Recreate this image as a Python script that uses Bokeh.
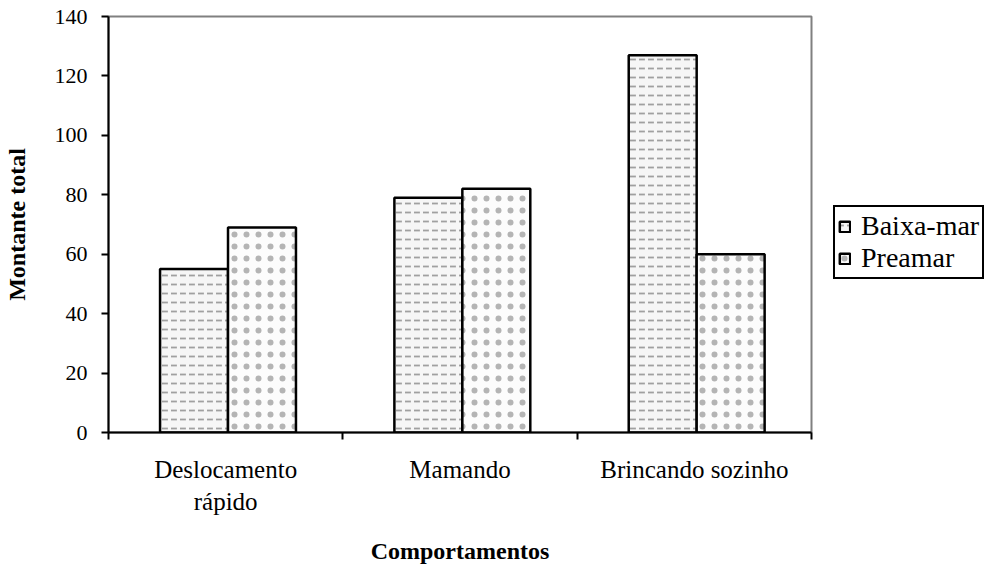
from bokeh.plotting import figure
from bokeh.models import FixedTicker, Legend, LegendItem, ColumnDataSource, Range1d
from bokeh.embed import file_html
from bokeh.resources import INLINE

categories = ["Deslocamento\nrápido", "Mamando", "Brincando sozinho"]
series_names = ["Baixa-mar", "Preamar"]
baixa_mar = [55, 79, 127]
preamar = [69, 82, 60]
y_ticks = [0, 20, 40, 60, 80, 100, 120, 140]

SERIF = "Liberation Serif"

p = figure(frame_width=703, frame_height=416, output_backend="svg", toolbar_location=None,
           x_range=Range1d(0, len(categories)), y_range=Range1d(0, 140),
           min_border_left=102, min_border_right=0, min_border_top=16, min_border_bottom=126)

idx = list(range(len(categories)))
w = 0.29
src_b = ColumnDataSource(dict(x=[i + 0.51 - w / 2 for i in idx], top=baixa_mar))
src_p = ColumnDataSource(dict(x=[i + 0.51 + w / 2 for i in idx], top=preamar))

rb = p.vbar(x="x", top="top", width=w, bottom=0, source=src_b,
            fill_color="#f6f6f6", line_color="black", line_width=2.5,
            hatch_pattern="horizontal_dash", hatch_color="#a0a0a0", hatch_scale=9, hatch_weight=1.8)
rp = p.vbar(x="x", top="top", width=w, bottom=0, source=src_p,
            fill_color="#fcfcfc", line_color="black", line_width=2.5,
            hatch_pattern="dot", hatch_color="#b4b4b4", hatch_scale=12, hatch_weight=0.5)

p.xgrid.visible = False
p.ygrid.visible = False
p.outline_line_color = "#808080"
p.outline_line_width = 2

# x axis: labels at category centers, ticks at boundaries
p.xaxis.ticker = FixedTicker(ticks=[i + 0.5 for i in idx], minor_ticks=[0] + [i + 1 for i in idx])
p.xaxis.major_label_overrides = {i + 0.5: c for i, c in zip(idx, categories)}
p.xaxis.major_tick_out = 0
p.xaxis.major_tick_in = 0
p.xaxis.minor_tick_out = 7
p.xaxis.minor_tick_in = 0
p.xaxis.minor_tick_line_width = 2
p.xaxis.axis_label = "Comportamentos"

p.yaxis.ticker = FixedTicker(ticks=y_ticks, minor_ticks=[])
p.yaxis.major_tick_out = 7
p.yaxis.major_tick_in = 0
p.yaxis.major_tick_line_width = 2
p.yaxis.axis_label = "Montante total"

for ax in (p.xaxis, p.yaxis):
    ax.axis_line_width = 2
    ax.axis_line_color = "black"
    ax.major_label_text_font = SERIF
    ax.major_label_text_color = "black"
    ax.axis_label_text_font = SERIF
    ax.axis_label_text_font_style = "bold"
    ax.axis_label_text_font_size = "24px"
    ax.axis_label_text_color = "black"

p.xaxis.major_label_text_font_size = "25px"
p.xaxis.major_label_standoff = 16
p.xaxis.axis_label_standoff = 20
p.yaxis.major_label_text_font_size = "22px"
p.yaxis.major_label_standoff = 14
p.yaxis.axis_label_standoff = 22

legend = Legend(items=[LegendItem(label=series_names[0], renderers=[rb]),
                       LegendItem(label=series_names[1], renderers=[rp])],
                location=(22, 153), orientation="vertical",
                label_text_font="Times New Roman", label_text_font_size="28px",
                label_text_color="black")
legend.glyph_width = 13
legend.glyph_height = 13
legend.label_height = 28
legend.spacing = 0
legend.padding = 3
legend.margin = 0
legend.label_standoff = 10
legend.border_line_color = "black"
legend.border_line_width = 2
legend.border_line_alpha = 1
legend.background_fill_alpha = 1
p.add_layout(legend, "right")
p.min_border_right = 170

open("out.html", "w").write(file_html(p, INLINE))
